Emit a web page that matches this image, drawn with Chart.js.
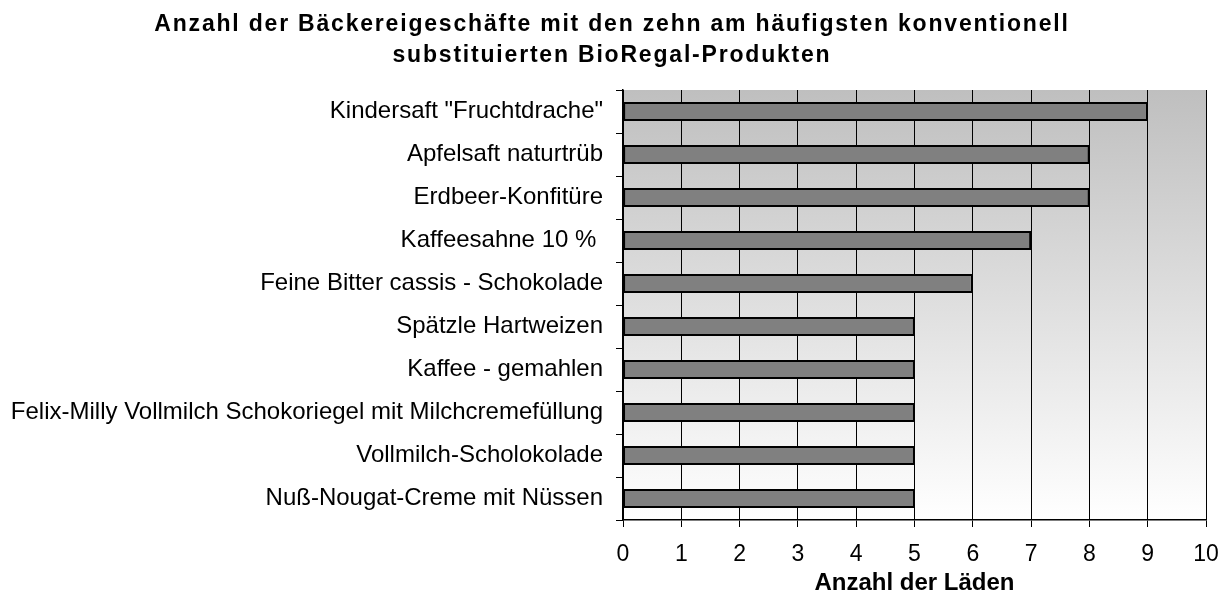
<!DOCTYPE html>
<html>
<head>
<meta charset="utf-8">
<script src="https://cdn.jsdelivr.net/npm/chart.js@4/dist/chart.umd.min.js"></script>
<style>
html,body{margin:0;padding:0;background:#fff;}
#wrap{width:1224px;height:597px;position:relative;}
</style>
</head>
<body>
<div id="wrap"><canvas id="c" width="1224" height="597"></canvas></div>
<script>
const categories = [
  'Kindersaft "Fruchtdrache"',
  'Apfelsaft naturtrüb',
  'Erdbeer-Konfitüre',
  'Kaffeesahne 10 % ',
  'Feine Bitter cassis - Schokolade',
  'Spätzle Hartweizen',
  'Kaffee - gemahlen',
  'Felix-Milly Vollmilch Schokoriegel mit Milchcremefüllung',
  'Vollmilch-Scholokolade',
  'Nuß-Nougat-Creme mit Nüssen'
];
const values = [9, 8, 8, 7, 6, 5, 5, 5, 5, 5];
const xTicks = [0, 1, 2, 3, 4, 5, 6, 7, 8, 9, 10];
const titleLines = ['Anzahl der Bäckereigeschäfte mit den zehn am häufigsten konventionell', 'substituierten BioRegal-Produkten'];
const xAxisTitle = 'Anzahl der Läden';

const FONT = "'Liberation Sans', Arial, sans-serif";

const bgPlugin = {
  id: 'plotBg',
  beforeDraw(chart) {
    const a = chart.chartArea, ctx = chart.ctx;
    const g = ctx.createLinearGradient(0, a.top, 0, a.bottom);
    g.addColorStop(0, '#bfbfbf');
    g.addColorStop(1, '#ffffff');
    ctx.save();
    ctx.fillStyle = g;
    ctx.fillRect(a.left, a.top, a.right - a.left, a.bottom - a.top);
    ctx.restore();
  }
};

const titlePlugin = {
  id: 'spacedTitle',
  afterDraw(chart) {
    const ctx = chart.ctx;
    ctx.save();
    ctx.fillStyle = '#000';
    ctx.font = 'bold 23px ' + FONT;
    if ('letterSpacing' in ctx) ctx.letterSpacing = '1.8px';
    ctx.textAlign = 'center';
    ctx.textBaseline = 'middle';
    const ys = [25, 56];
    titleLines.forEach((t, i) => ctx.fillText(t, chart.width / 2, ys[i]));
    ctx.restore();
  }
};

new Chart(document.getElementById('c'), {
  type: 'bar',
  data: {
    labels: categories,
    datasets: [{
      data: values,
      backgroundColor: '#808080',
      borderColor: '#000000',
      borderWidth: 2,
      borderSkipped: false,
      barPercentage: 0.44,
      categoryPercentage: 1.0
    }]
  },
  plugins: [bgPlugin, titlePlugin],
  options: {
    indexAxis: 'y',
    responsive: false,
    animation: false,
    layout: { padding: { left: 0, right: 18, top: 90, bottom: 0 } },
    plugins: {
      legend: { display: false },
      tooltip: { enabled: false },
      title: { display: false }
    },
    scales: {
      x: {
        type: 'linear',
        min: 0,
        max: 10,
        afterBuildTicks(scale) { scale.ticks = xTicks.map(v => ({ value: v })); },
        afterFit(scale) {
          scale.height = 77;
          scale.paddingLeft = 0;
          scale.paddingRight = 0;
        },
        ticks: {
          color: '#000',
          font: { family: FONT, size: 23 },
          padding: 14,
          maxRotation: 0,
          autoSkip: false
        },
        grid: { color: '#000', lineWidth: 1, tickLength: 7, drawOnChartArea: true },
        border: { color: '#000', width: 1.5 },
        title: {
          display: true,
          text: xAxisTitle,
          color: '#000',
          font: { family: FONT, size: 24, weight: 'bold', lineHeight: 1.1 },
          padding: { top: 0, bottom: 0 }
        }
      },
      y: {
        type: 'category',
        offset: true,
        afterFit(scale) {
          scale.width = 623;
          scale.paddingTop = 0;
          scale.paddingBottom = 0;
        },
        ticks: {
          color: '#000',
          font: { family: FONT, size: 24 },
          padding: 13,
          autoSkip: false
        },
        grid: { color: '#000', lineWidth: 1, tickLength: 7, drawOnChartArea: false, offset: true },
        border: { color: '#000', width: 1.5 }
      }
    }
  }
});
</script>
</body>
</html>
